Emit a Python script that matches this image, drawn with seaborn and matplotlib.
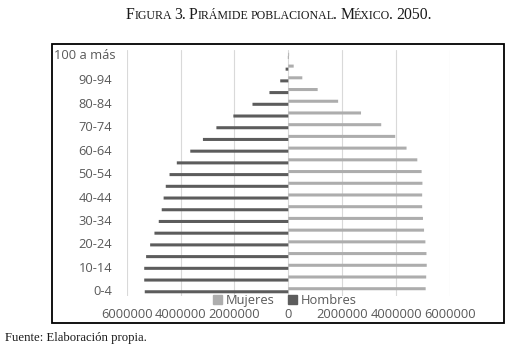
import numpy as np
import pandas as pd
import matplotlib
matplotlib.use("Agg")
import matplotlib.pyplot as plt
import matplotlib.transforms as mtransforms
import seaborn as sns
from matplotlib.patches import Rectangle
from matplotlib.patches import Patch

# Age groups from youngest to oldest
grupos = ["0-4", "5-9", "10-14", "15-19", "20-24", "25-29", "30-34", "35-39",
          "40-44", "45-49", "50-54", "55-59", "60-64", "65-69", "70-74", "75-79",
          "80-84", "85-89", "90-94", "95-99", "100 a más"]

hombres = [5330000, 5350000, 5350000, 5280000, 5130000, 4970000, 4810000, 4700000,
           4630000, 4550000, 4410000, 4140000, 3640000, 3170000, 2670000, 2040000,
           1330000, 700000, 300000, 100000, 15000]

mujeres = [5100000, 5120000, 5140000, 5130000, 5090000, 5040000, 5000000, 4970000,
           4970000, 4980000, 4950000, 4790000, 4390000, 3970000, 3450000, 2700000,
           1850000, 1090000, 520000, 200000, 30000]

xticks = [-6000000, -4000000, -2000000, 0, 2000000, 4000000, 6000000]

df = pd.DataFrame({
    "edad": grupos * 2,
    "valor": mujeres + [-v for v in hombres],
    "sexo": ["Mujeres"] * len(grupos) + ["Hombres"] * len(grupos),
})

sns.set_theme(style="white")
plt.rcParams["font.family"] = ["Open Sans", "DejaVu Sans"]

color_m = "#adadad"
color_h = "#5c5c5c"
gris_txt = "#595959"
fs = 9.3

fig = plt.figure(figsize=(5.13, 3.5), dpi=100)
ax = fig.add_axes([0.247, 0.154, 0.630, 0.703])

orden = grupos[::-1]
sns.barplot(data=df, y="edad", x="valor", hue="sexo", orient="h", order=orden,
            hue_order=["Mujeres", "Hombres"], palette=[color_m, color_h],
            width=0.52, dodge=True, ax=ax, legend=False, saturation=1)
for p in ax.patches:
    p.set_snap(False)
    p.set_linewidth(0)

ax.set_xlim(-6000000, 6000000)
ax.set_xticks(xticks)
ax.set_xticklabels([str(abs(v)) for v in xticks], fontsize=fs, color=gris_txt)
ax.set_yticks(range(len(orden)))
# every other label; the top one is drawn apart, pushed against the frame
etiquetas = [g if (i % 2 == 0 and i > 0) else "" for i, g in enumerate(orden)]
ax.set_yticklabels(etiquetas, fontsize=fs, color=gris_txt)
ax.tick_params(axis="x", length=0, pad=8.5)
ax.tick_params(axis="y", length=0, pad=10.5)
trans = mtransforms.blended_transform_factory(fig.transFigure, ax.transData)
ax.text(0.106, 0, orden[0], transform=trans, fontsize=fs, color=gris_txt,
        ha="left", va="center")
ax.set_xlabel("")
ax.set_ylabel("")
ax.set_ylim(len(orden) - 0.5, -0.5)
for s in ax.spines.values():
    s.set_visible(False)
ax.grid(axis="x", color="#d9d9d9", linewidth=0.8)
ax.set_axisbelow(True)

# legend between the bars and the tick labels, as in the original
handles = [Patch(color=color_m, label="Mujeres"), Patch(color=color_h, label="Hombres")]
fig.legend(handles=handles, loc="center", bbox_to_anchor=(0.555, 0.142), ncol=2,
           frameon=False, fontsize=fs, handlelength=0.7, handleheight=0.7,
           handletextpad=0.3, columnspacing=1.0, borderpad=0, labelcolor=gris_txt)

# outer chart frame
fig.patches.append(Rectangle((0.101, 0.077), 0.882, 0.797, transform=fig.transFigure,
                             fill=False, edgecolor="black", linewidth=1.3))

# title in small caps, drawn piece by piece
titulo = "Figura 3. Pirámide poblacional. México. 2050."
renderer = fig.canvas.get_renderer()
fw = fig.get_figwidth() * fig.dpi
piezas = []
for ch in titulo:
    if ch == " ":
        piezas.append((" ", None))
    elif ch.islower():
        piezas.append((ch.upper(), 8.6))
    else:
        piezas.append((ch, 11.3))
# merge consecutive pieces with the same size
runs = []
for t, s in piezas:
    if runs and runs[-1][1] == s:
        runs[-1][0] += t
    else:
        runs.append([t, s])
espacio = 3.4
textos = []
total = 0.0
for t, s in runs:
    if s is None:
        textos.append((None, espacio * len(t)))
        total += espacio * len(t)
        continue
    tx = fig.text(0, 0.946, t, fontsize=s, family="Liberation Serif", color="#1a1a1a",
                  va="baseline")
    w = tx.get_window_extent(renderer).width
    if s < 10:
        w -= 1.5
    textos.append((tx, w))
    total += w
x0 = 0.543 * fw - total / 2
for tx, w in textos:
    if tx is not None:
        tx.set_x(x0 / fw)
    x0 += w

fig.text(0.01, 0.027, "Fuente: Elaboración propia.", fontsize=9.2,
         family="Liberation Serif", color="#1a1a1a")

fig.savefig("out.png", dpi=100)
